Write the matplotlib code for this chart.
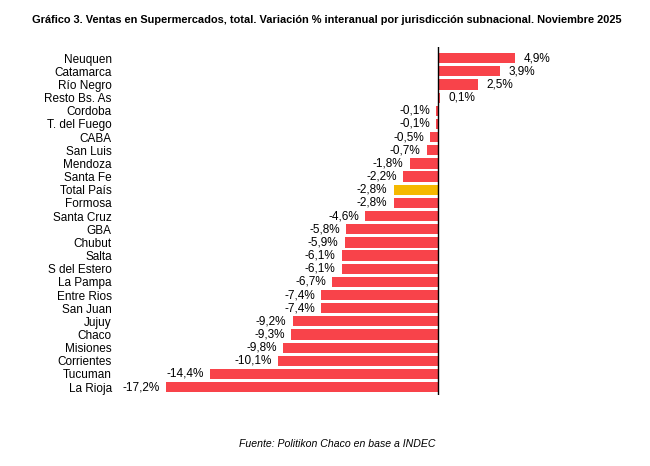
import matplotlib.pyplot as plt

# Datos (variación % interanual, noviembre 2025)
provincias = ["Neuquen", "Catamarca", "Río Negro", "Resto Bs. As", "Cordoba",
              "T. del Fuego", "CABA", "San Luis", "Mendoza", "Santa Fe",
              "Total País", "Formosa", "Santa Cruz", "GBA", "Chubut", "Salta",
              "S del Estero", "La Pampa", "Entre Rios", "San Juan", "Jujuy",
              "Chaco", "Misiones", "Corrientes", "Tucuman", "La Rioja"]
variacion = [4.9, 3.9, 2.5, 0.1, -0.1, -0.1, -0.5, -0.7, -1.8, -2.2,
             -2.8, -2.8, -4.6, -5.8, -5.9, -6.1, -6.1, -6.7, -7.4, -7.4,
             -9.2, -9.3, -9.8, -10.1, -14.4, -17.2]

titulo = "Gráfico 3. Ventas en Supermercados, total. Variación % interanual por jurisdicción subnacional. Noviembre 2025"
fuente_txt = "Fuente: Politikon Chaco en base a INDEC"

plt.rcParams['font.family'] = ['Liberation Sans', 'DejaVu Sans']

rojo = "#F8434A"
oro = "#F5B800"
colores = [oro if p == "Total País" else rojo for p in provincias]

fig = plt.figure(figsize=(6.5, 4.66), dpi=100)
W, H = 650, 466
# ejes en pixeles: x 120..560, y 47..395
ax = fig.add_axes([120 / W, 1 - 395 / H, 440 / W, 348 / H])

escala = 15.8  # px por punto porcentual
ax.set_xlim(-(438 - 120) / escala, (560 - 438) / escala)
pos = list(range(len(provincias)))
ax.barh(pos, variacion, height=0.78, color=colores)
ax.set_ylim(len(provincias) - 0.4, -0.85)

for y, v in zip(pos, variacion):
    txt = f"{v:.1f}%".replace(".", ",")
    if v >= 0:
        ax.text(v + 0.55, y, txt, va="center", ha="left", fontsize=8.5)
    else:
        ax.text(v - 0.4, y, txt, va="center", ha="right", fontsize=8.5)

ax.set_yticks(pos)
ax.set_yticklabels(provincias, fontsize=8.5)
ax.tick_params(axis="y", length=0, pad=6)
ax.set_xticks([])
for s in ["top", "right", "bottom", "left"]:
    ax.spines[s].set_visible(False)
ax.axvline(0, color="black", lw=1)

t = fig.text(327 / W, 1 - 20 / H, titulo, ha="center", va="center",
             fontsize=10, fontweight="bold")
# ajustar el tamaño del título al ancho del original (~586 px)
r = fig.canvas.get_renderer()
ancho = t.get_window_extent(r).width
t.set_fontsize(10 * 586 / ancho)

fig.text(337 / W, 1 - 444 / H, fuente_txt,
         ha="center", va="center", fontsize=7.6, style="italic")

fig.savefig("out.png", dpi=100)
